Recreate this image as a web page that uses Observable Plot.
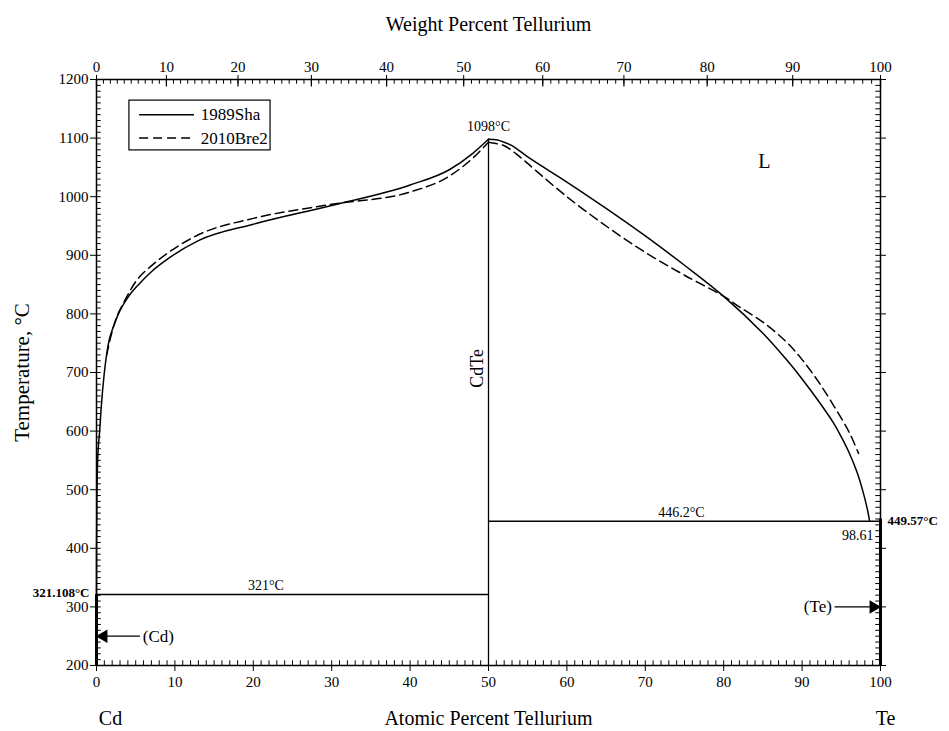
<!DOCTYPE html>
<html>
<head>
<meta charset="utf-8">
<script src="https://cdn.jsdelivr.net/npm/d3@7"></script>
<script src="https://cdn.jsdelivr.net/npm/@observablehq/plot@0.6"></script>
<style>
  html, body { margin: 0; padding: 0; background: #fff; }
  #chart { width: 949px; height: 731px; }
</style>
</head>
<body>
<div id="chart"></div>
<script>
// ---- data (atomic % Te, temperature °C) ----
const shaX = [0, 0.01, 0.05, 0.15, 0.4, 0.6, 1.0, 1.5, 2.2, 2.8, 4, 5.5, 7, 9, 13, 20, 30, 40, 45, 48, 50,
              51, 52, 53, 55, 58, 60, 65, 70, 75, 80, 85, 88, 90, 92, 94, 95, 96, 97, 97.8, 98.3, 98.61];
const shaT = [321.108, 400, 480, 550, 600, 640, 700, 748, 780, 800, 828, 852, 872, 893, 925, 953, 985, 1020, 1046, 1074, 1098,
              1097, 1093, 1087, 1068, 1042, 1025, 980, 933, 883, 830, 767, 722, 689, 653, 614, 590, 563, 530, 495, 468, 446.2];
const breX = [1.3, 1.8, 2.6, 3.5, 5, 7, 9, 13, 20, 30, 40, 45, 48, 50,
              52, 54, 56, 60, 65, 70, 75, 80, 82, 85, 88, 90, 92, 94, 96, 97.2];
const breT = [730, 760, 795, 820, 855, 882, 903, 935, 963, 987, 1008, 1035, 1066, 1093,
              1087, 1068, 1045, 1000, 950, 905, 866, 830, 812, 786, 752, 722, 686, 644, 598, 562];

const atTicks = [0, 10, 20, 30, 40, 50, 60, 70, 80, 90, 100];
const wtTicks = [0, 10, 20, 30, 40, 50, 60, 70, 80, 90, 100];
const tempTicks = [200, 300, 400, 500, 600, 700, 800, 900, 1000, 1100, 1200];

// invariant lines
const compound = [{x: 50, T1: 200, T2: 1098}];
const isotherms = [{x1: 0, x2: 50, T: 321.108}, {x1: 50, x2: 100, T: 446.2}];

// annotations
const notes = [
  {x: 50, T: 1098, text: "1098°C"},
  {x: 21.6, T: 321.108, text: "321°C"},
  {x: 74.6, T: 446.2, text: "446.2°C"}
];
const seriesNames = ["1989Sha", "2010Bre2"];

// ---- helpers ----
const MCd = 112.411, MTe = 127.60;
const wtToAt = w => w <= 0 ? 0 : w >= 100 ? 100 : 100 * (w / MTe) / (w / MTe + (100 - w) / MCd);
const sha = shaX.map((x, i) => ({x, T: shaT[i]}));
const bre = breX.map((x, i) => ({x, T: breT[i]}));
const atMinor = d3.range(0, 101, 1);
const wtMinor = d3.range(0, 101, 1).map(wtToAt);
const wtMajorAt = wtTicks.map(wtToAt);
const tMinor = d3.range(200, 1201, 10);
const serif = "Liberation Serif, Times New Roman, serif";

const legend = [
  {x1: 5.5, x2: 12.5, T: 1140, tx: 13.3, name: seriesNames[0]},
  {x1: 5.5, x2: 12.5, T: 1100, tx: 13.3, name: seriesNames[1]}
];

const chart = Plot.plot({
  width: 949,
  height: 731,
  marginLeft: 96,
  marginRight: 69,
  marginTop: 79,
  marginBottom: 66,
  x: {domain: [0, 100], axis: null},
  y: {domain: [200, 1200], axis: null},
  style: {fontFamily: serif, fontSize: "15px", color: "black", background: "white", overflow: "visible"},
  marks: [
    // minor ticks (inward)
    Plot.ruleX(atMinor, {x: d => d, y1: 200, y2: 208, stroke: "black", strokeWidth: 1}),
    Plot.ruleX(wtMinor, {x: d => d, y1: 1200, y2: 1192, stroke: "black", strokeWidth: 1}),
    Plot.ruleX(wtMajorAt, {x: d => d, y1: 1200, y2: 1187, stroke: "black", strokeWidth: 1.2}),
    Plot.ruleY(tMinor, {y: d => d, x1: 0, x2: 0.6, stroke: "black", strokeWidth: 1}),
    Plot.ruleY(tMinor, {y: d => d, x1: 100, x2: 99.4, stroke: "black", strokeWidth: 1}),
    // axes
    Plot.axisY({anchor: "left", ticks: tempTicks, tickSize: 6, tickPadding: 2, tickFormat: d => String(d), fontSize: 15, label: null}),
    Plot.axisY({anchor: "right", ticks: tempTicks, tickSize: 5, tickFormat: () => "", label: null}),
    Plot.axisX({anchor: "bottom", ticks: atTicks, tickSize: 6, tickPadding: 5, tickFormat: d => String(d), fontSize: 15, label: null}),
    Plot.axisX({anchor: "top", ticks: wtMajorAt, tickSize: 5, tickPadding: 3, tickFormat: (d, i) => String(wtTicks[i]), fontSize: 15, label: null}),
    Plot.frame({stroke: "black", strokeWidth: 1.5}),
    // terminal phases on the axes
    Plot.ruleX([0], {y1: 200, y2: 321.108, stroke: "black", strokeWidth: 3}),
    Plot.ruleX([100], {y1: 200, y2: 449.57, stroke: "black", strokeWidth: 3}),
    // invariant lines
    Plot.ruleX(compound, {x: "x", y1: "T1", y2: "T2", stroke: "black", strokeWidth: 1.3}),
    Plot.ruleY(isotherms, {y: "T", x1: "x1", x2: "x2", stroke: "black", strokeWidth: 1.5}),
    // liquidus curves
    Plot.line(sha.filter(d => d.x <= 50), {x: "x", y: "T", curve: "monotone-x", stroke: "black", strokeWidth: 1.5}),
    Plot.line(sha.filter(d => d.x >= 50), {x: "x", y: "T", curve: "catmull-rom", stroke: "black", strokeWidth: 1.5}),
    Plot.line(bre.filter(d => d.x <= 50), {x: "x", y: "T", curve: "monotone-x", stroke: "black", strokeWidth: 1.5, strokeDasharray: "9,5"}),
    Plot.line(bre.filter(d => d.x >= 50), {x: "x", y: "T", curve: "catmull-rom", stroke: "black", strokeWidth: 1.5, strokeDasharray: "9,5"}),
    // annotations
    Plot.text(notes.slice(0, 1), {x: "x", y: "T", text: "text", dy: -13, fontSize: 14}),
    Plot.text(notes.slice(1), {x: "x", y: "T", text: "text", dy: -9, fontSize: 14}),
    Plot.text(["CdTe"], {x: 50, y: 707, text: d => d, rotate: -90, dx: -11, fontSize: 18}),
    Plot.text(["L"], {x: 85.2, y: 1060, text: d => d, fontSize: 20}),
    Plot.text(["321.108°C"], {x: 0, y: 321.108, text: d => d, textAnchor: "end", dx: -7, dy: -2, fontWeight: "bold", fontSize: 13}),
    Plot.text(["449.57°C"], {x: 100, y: 449.57, text: d => d, textAnchor: "start", dx: 7, dy: 2, fontWeight: "bold", fontSize: 13}),
    Plot.text(["98.61"], {x: 99.1, y: 446.2, text: d => d, textAnchor: "end", dy: 14, fontSize: 14}),
    // (Cd) and (Te)
    Plot.ruleY([250], {x1: 0.8, x2: 5.6, stroke: "black", strokeWidth: 1.3}),
    Plot.dot([250], {x: 0.9, y: d => d, symbol: "triangle", rotate: -90, r: 5, fill: "black", stroke: null}),
    Plot.text(["(Cd)"], {x: 5.9, y: 250, text: d => d, textAnchor: "start", fontSize: 17}),
    Plot.ruleY([300], {x1: 94.2, x2: 99.2, stroke: "black", strokeWidth: 1.3}),
    Plot.dot([300], {x: 99.1, y: d => d, symbol: "triangle", rotate: 90, r: 5, fill: "black", stroke: null}),
    Plot.text(["(Te)"], {x: 93.8, y: 300, text: d => d, textAnchor: "end", fontSize: 17}),
    // legend
    Plot.rect([{x1: 4.2, x2: 22.2, y1: 1079, y2: 1164}], {x1: "x1", x2: "x2", y1: "y1", y2: "y2", fill: "white", stroke: "black", strokeWidth: 1.2}),
    Plot.ruleY(legend.slice(0, 1), {y: "T", x1: "x1", x2: "x2", stroke: "black", strokeWidth: 1.5}),
    Plot.ruleY(legend.slice(1), {y: "T", x1: "x1", x2: "x2", stroke: "black", strokeWidth: 1.5, strokeDasharray: "9,5"}),
    Plot.text(legend, {x: "tx", y: "T", text: "name", textAnchor: "start", fontSize: 17}),
    // axis titles and element labels
    Plot.text(["Weight Percent Tellurium"], {x: 50, y: 1200, text: d => d, dy: -55, fontSize: 20}),
    Plot.text(["Atomic Percent Tellurium"], {x: 50, y: 200, text: d => d, dy: 53, fontSize: 20}),
    Plot.text(["Cd"], {x: 0, y: 200, text: d => d, dx: 14, dy: 53, fontSize: 20}),
    Plot.text(["Te"], {x: 100, y: 200, text: d => d, dx: 5, dy: 53, fontSize: 20}),
    Plot.text(["Temperature, °C"], {x: 0, y: 700, text: d => d, rotate: -90, dx: -74, fontSize: 21})
  ]
});
document.getElementById("chart").appendChild(chart);
</script>
</body>
</html>
